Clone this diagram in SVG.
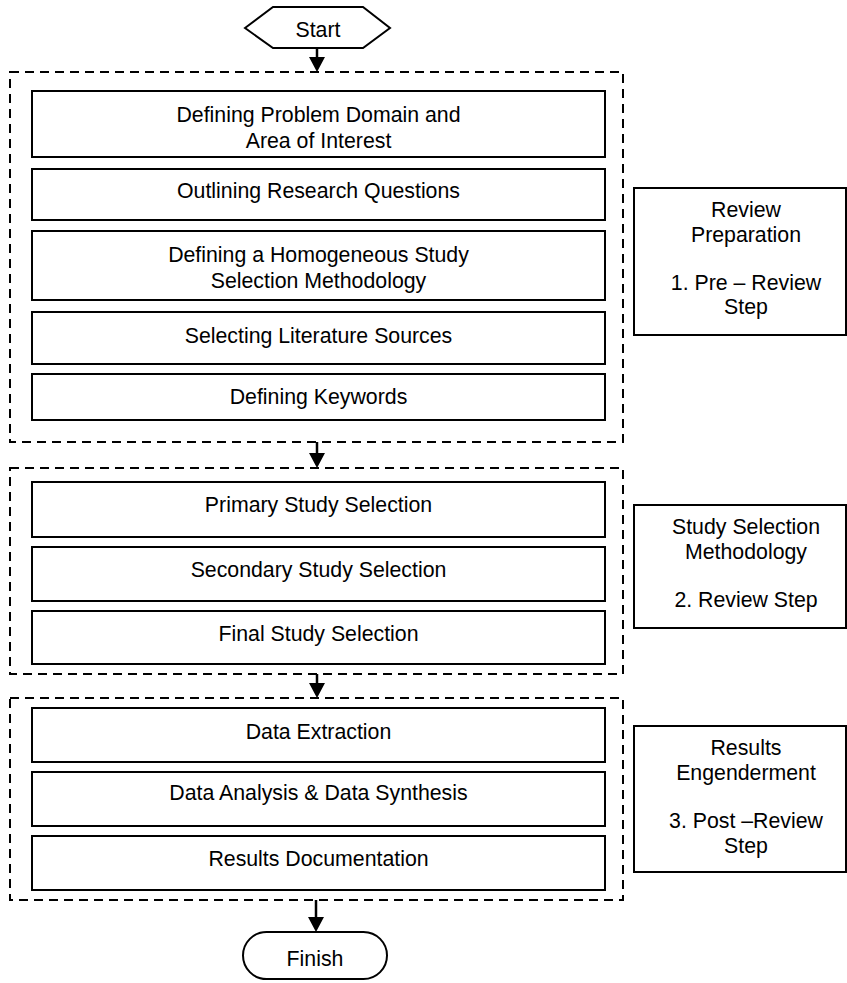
<svg xmlns="http://www.w3.org/2000/svg" width="847" height="983" viewBox="0 0 847 983">
  <style>
    .box { fill: #ffffff; stroke: #000000; stroke-width: 2; }
    .phase { fill: none; stroke: #000000; stroke-width: 2; stroke-dasharray: 9 6; }
    .lbl { font-family: "Liberation Sans", Arial, sans-serif; font-size: 21.3px; fill: #000000; text-anchor: middle; }
    .flow { fill: none; stroke: #000000; stroke-width: 2.5; marker-end: url(#head); }
  </style>
  <defs>
    <marker id="head" markerUnits="userSpaceOnUse" markerWidth="16" markerHeight="16" viewBox="0 0 15 16" refX="9" refY="8" orient="auto">
      <path d="M0,0 L15,8 L0,16 z" fill="#000000"/>
    </marker>
  </defs>
  <rect width="847" height="983" fill="#ffffff"/>

  <!-- terminators -->
  <g id="start">
    <polygon class="box" points="245,28 273,7 363,7 390,28 363,48 273,48"/>
    <text class="lbl" x="318" y="37">Start</text>
  </g>
  <g id="finish">
    <rect class="box" x="243" y="932" width="144" height="47" rx="23.5" ry="23.5"/>
    <text class="lbl" x="315" y="966">Finish</text>
  </g>

  <!-- phase containers -->
  <g id="phase-pre-review">
    <rect class="phase" x="10" y="72" width="613" height="370"/>
  </g>
  <g id="phase-review">
    <rect class="phase" x="10" y="468" width="613" height="206"/>
  </g>
  <g id="phase-post-review">
    <rect class="phase" x="10" y="698" width="613" height="202"/>
  </g>

  <!-- pre-review steps -->
  <g id="step-problem-domain">
    <rect class="box" x="32" y="91" width="573" height="66"/>
    <text class="lbl" x="318.5" y="121.5">Defining Problem Domain and</text>
    <text class="lbl" x="318.5" y="148">Area of Interest</text>
  </g>
  <g id="step-research-questions">
    <rect class="box" x="32" y="169" width="573" height="51"/>
    <text class="lbl" x="318.5" y="198">Outlining Research Questions</text>
  </g>
  <g id="step-methodology">
    <rect class="box" x="32" y="231" width="573" height="69"/>
    <text class="lbl" x="318.5" y="262">Defining a Homogeneous Study</text>
    <text class="lbl" x="318.5" y="288">Selection Methodology</text>
  </g>
  <g id="step-sources">
    <rect class="box" x="32" y="312" width="573" height="52"/>
    <text class="lbl" x="318.5" y="342.5">Selecting Literature Sources</text>
  </g>
  <g id="step-keywords">
    <rect class="box" x="32" y="374" width="573" height="46"/>
    <text class="lbl" x="318.5" y="404">Defining Keywords</text>
  </g>

  <!-- review steps -->
  <g id="step-primary">
    <rect class="box" x="32" y="482" width="573" height="55"/>
    <text class="lbl" x="318.5" y="512">Primary Study Selection</text>
  </g>
  <g id="step-secondary">
    <rect class="box" x="32" y="547" width="573" height="54"/>
    <text class="lbl" x="318.5" y="576.5">Secondary Study Selection</text>
  </g>
  <g id="step-final">
    <rect class="box" x="32" y="611" width="573" height="53"/>
    <text class="lbl" x="318.5" y="641">Final Study Selection</text>
  </g>

  <!-- post-review steps -->
  <g id="step-extraction">
    <rect class="box" x="32" y="708" width="573" height="54"/>
    <text class="lbl" x="318.5" y="738.5">Data Extraction</text>
  </g>
  <g id="step-analysis">
    <rect class="box" x="32" y="772" width="573" height="54"/>
    <text class="lbl" x="318.5" y="800">Data Analysis &amp; Data Synthesis</text>
  </g>
  <g id="step-documentation">
    <rect class="box" x="32" y="836" width="573" height="54"/>
    <text class="lbl" x="318.5" y="866">Results Documentation</text>
  </g>

  <!-- phase labels -->
  <g id="label-pre-review">
    <rect class="box" x="634" y="188" width="212" height="147"/>
    <text class="lbl" x="746" y="217">Review</text>
    <text class="lbl" x="746" y="242">Preparation</text>
    <text class="lbl" x="746" y="290">1. Pre – Review</text>
    <text class="lbl" x="746" y="314">Step</text>
  </g>
  <g id="label-review">
    <rect class="box" x="634" y="505" width="212" height="123"/>
    <text class="lbl" x="746" y="534">Study Selection</text>
    <text class="lbl" x="746" y="559">Methodology</text>
    <text class="lbl" x="746" y="607">2. Review Step</text>
  </g>
  <g id="label-post-review">
    <rect class="box" x="634" y="726" width="212" height="146"/>
    <text class="lbl" x="746" y="755">Results</text>
    <text class="lbl" x="746" y="780">Engenderment</text>
    <text class="lbl" x="746" y="828">3. Post –Review</text>
    <text class="lbl" x="746" y="853">Step</text>
  </g>

  <!-- connectors -->
  <g id="connectors">
    <line class="flow" x1="317" y1="48" x2="317" y2="66"/>
    <line class="flow" x1="317" y1="442" x2="317" y2="462"/>
    <line class="flow" x1="317" y1="674" x2="317" y2="692"/>
    <line class="flow" x1="316" y1="900" x2="316" y2="926"/>
  </g>
</svg>
